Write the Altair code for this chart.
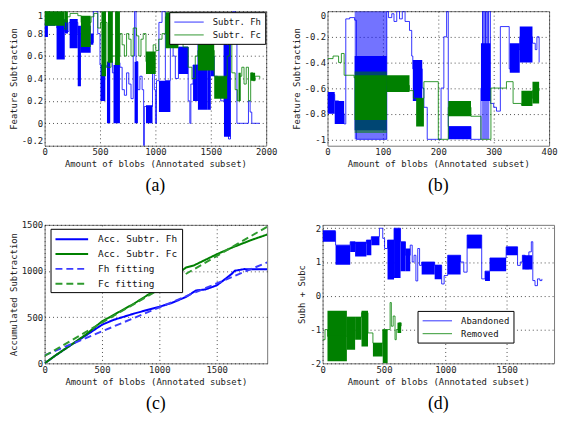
import altair as alt
import pandas as pd

BLUE = "#0000ff"
GREEN = "#008000"
MONO = "DejaVu Sans Mono"
XTITLE = "Amount of blobs (Annotated subset)"

# ---------------- panel (a) ----------------
A_FH_LINE = [(0, 0.88), (30, 0.97), (100, 0.9), (110, 0.85), (180, 0.82), (220, 0.9), (300, 0.8), (330, 0.72),
             (440, 1.0), (470, 1.0), (480, 0.8), (500, 0.52), (555, 0.5), (572, 0.55), (612, 0.45), (638, 0.54),
             (680, 0.5), (700, 0.3), (720, 0.25), (740, 0.45), (760, 0.35), (780, 0.22), (800, 0.6), (812, 1.0),
             (825, 0.55), (842, 0.3), (860, 0.42), (880, 0.3), (894, -0.2), (900, 0.15), (974, 0.55), (990, 0.3),
             (1000, 0.0), (1010, 0.38), (1032, 0.9), (1060, 1.0), (1090, 0.38), (1135, 0.9), (1160, 0.6),
             (1180, 0.4), (1208, 0.68), (1296, 0.2), (1311, 0.0), (1320, 0.35), (1340, 0.52), (1384, 0.7),
             (1472, 0.55), (1500, 0.6), (1531, 0.42), (1560, 0.3), (1590, 0.2), (1619, 0.7), (1640, 0.8),
             (1660, -0.14), (1678, 0.85), (1700, 1.0), (1720, 0.8), (1736, 0.0), (1840, 0.2), (1855, 0.1),
             (1870, 0.0), (1942, 0.0)]
A_FH_BANDS = [(0, 30, 0.77, 0.90), (30, 95, 0.87, 0.99), (108, 182, 0.57, 0.93), (182, 211, 0.80, 0.92),
              (226, 299, 0.67, 0.93), (299, 328, 0.33, 0.87), (328, 416, 0.63, 0.87), (416, 440, 0.70, 0.80),
              (504, 548, 0.20, 0.52), (563, 592, 0.0, 0.55), (622, 680, 0.0, 0.52), (812, 842, 0.0, 0.55),
              (915, 974, 0.0, 0.16), (1032, 1135, 0.10, 0.38), (1208, 1296, 0.44, 0.68), (1340, 1384, 0.20, 0.52),
              (1384, 1472, 0.12, 0.70), (1472, 1500, 0.12, 0.55), (1500, 1531, 0.42, 0.60), (1619, 1678, -0.12, 0.70)]
A_FC_LINE = [(0, 1.0), (40, 0.95), (80, 0.98), (120, 0.92), (180, 0.84), (200, 0.95), (230, 0.98), (300, 0.96),
             (330, 0.9), (420, 0.95), (445, 0.98), (480, 0.85), (504, 0.9), (563, 0.5), (600, 0.6), (680, 0.8),
             (700, 0.7), (720, 0.6), (740, 0.8), (760, 0.75), (780, 0.6), (800, 0.85), (830, 0.78), (850, 0.6),
             (870, 0.75), (890, 0.8), (915, 0.55), (940, 0.5), (980, 0.7), (1003, 0.65), (1030, 0.75), (1060, 0.8),
             (1091, 0.95), (1208, 0.75), (1250, 0.68), (1296, 0.5), (1330, 0.4), (1360, 0.6), (1384, 0.65),
             (1531, 0.42), (1648, 0.6), (1670, 0.76), (1690, 0.45), (1720, 0.3), (1740, 0.2), (1760, 0.42),
             (1780, 0.5), (1800, 0.35), (1820, 0.5), (1840, 0.2), (1860, 0.45), (1880, 0.38), (1900, 0.42),
             (1942, 0.4)]
A_FC_BANDS = [(0, 180, 0.87, 1.0), (180, 210, 0.90, 1.0), (328, 416, 0.68, 0.96), (513, 554, 0.42, 1.0),
              (572, 616, 0.54, 1.0), (636, 680, 0.52, 1.0), (915, 1003, 0.44, 0.64), (1091, 1208, 0.67, 0.99),
              (1384, 1531, 0.47, 0.73), (1531, 1648, 0.22, 0.42), (1750, 1770, 0.20, 0.45), (1860, 1900, 0.38, 0.45)]

# ---------------- panel (b) ----------------
B_FH_LINE = [(0, -0.75), (5, -0.65), (13, -0.7), (20, -0.8), (30, -0.88), (33, -0.06), (40, -0.05), (49, -0.07),
             (52, -1.0), (107, 0.0), (110, -0.05), (116, -0.02), (120, -0.08), (125, 0.0), (130, -0.06), (135, 0.0),
             (140, -0.08), (148, -0.15), (152, -0.35), (154, -0.45), (171, -0.6), (174, -0.75), (180, -1.0),
             (197, -1.0), (205, -0.6), (210, -0.2), (215, 0.0), (218, -0.9), (259, -1.0), (277, -0.6), (280, 0.0),
             (285, -0.5), (290, 0.0), (294, -0.72), (300, -0.75), (305, -0.78), (312, -0.12), (328, -0.45),
             (335, -0.3), (347, -0.2), (352, -0.15), (360, -0.3), (365, -0.2), (370, -0.25), (375, -0.3),
             (378, -0.2), (382, -0.4)]
B_FH_BANDS_LIGHT = [(49, 107, -1.0, 0.0), (279, 292, -1.0, 0.0)]
B_FH_BANDS = [(0, 13, -0.80, -0.63), (13, 30, -0.88, -0.70), (49, 107, -0.93, -0.35), (154, 171, -0.70, -0.38),
              (218, 259, -1.0, -0.90), (277, 294, -0.70, -0.25), (329, 347, -0.48, -0.25), (347, 370, -0.40, -0.12)]
B_FC_LINE = [(0, -0.37), (10, -0.35), (20, -0.4), (25, -0.33), (30, -0.5), (48, -0.52), (107, -0.58), (148, -0.62),
             (155, -0.68), (174, -0.55), (200, -1.0), (218, -0.75), (259, -0.82), (277, -1.0), (295, -0.6),
             (323, -0.55), (335, -0.72), (350, -0.73), (360, -0.68), (370, -0.62), (382, -0.6)]
B_FC_BANDS_LIGHT = [(49, 107, -0.95, -0.47)]
B_FC_BANDS = [(49, 107, -0.85, -0.50), (107, 148, -0.63, -0.50), (160, 174, -0.90, -0.68), (218, 259, -0.82, -0.70),
              (350, 370, -0.74, -0.62), (370, 382, -0.72, -0.55)]

# ---------------- panel (c) ----------------
C_FH_X = [0, 100, 217, 359, 500, 600, 782, 1000, 1100, 1234, 1320, 1400, 1500, 1560, 1630, 1658, 1743, 1800, 1940]
C_FH_Y = [0, 90, 188, 301, 418, 470, 540, 613, 650, 720, 790, 800, 844, 900, 968, 1003, 1021, 1018, 1020]
C_FC_X = [0, 100, 217, 359, 500, 782, 1000, 1234, 1300, 1500, 1630, 1800, 1940]
C_FC_Y = [0, 90, 188, 312, 454, 649, 819, 1039, 1060, 1181, 1252, 1335, 1395]
C_FH_FIT_X = [0, 1940]
C_FH_FIT_Y = [87, 1094]
C_FC_FIT_X = [0, 1940]
C_FC_FIT_Y = [80, 1480]

# ---------------- panel (d) ----------------
D_AB_LINE = [(0, 1.9), (106, 1.5), (225, 1.6), (265, 1.55), (357, 1.65), (397, 1.75), (463, 2.0), (490, 1.7),
             (505, 1.4), (529, 1.65), (582, 2.0), (635, 1.6), (675, 1.2), (714, 1.5), (730, 1.0), (745, 1.2),
             (760, 0.44), (775, 1.4), (790, 0.9), (807, 1.0), (913, 0.9), (970, 0.35), (990, 0.6), (1019, 1.2),
             (1124, 1.0), (1150, 0.7), (1177, 1.8), (1296, 0.5), (1323, 0.73), (1363, 1.12), (1495, 1.45),
             (1588, 0.9), (1610, 1.0), (1627, 1.2), (1650, 0.8), (1680, 1.3), (1700, 1.6), (1712, 0.45),
             (1730, 0.3), (1750, 0.5), (1770, 0.45), (1786, 0.5)]
D_AB_BANDS = [(0, 106, 1.6, 1.94), (106, 225, 0.92, 1.5), (225, 265, 1.3, 1.6), (265, 357, 1.16, 1.6),
              (357, 397, 1.2, 1.65), (397, 463, 1.5, 1.75), (529, 582, 0.48, 1.65), (582, 635, 0.53, 2.0),
              (635, 675, 0.73, 1.6), (675, 714, 0.73, 1.4), (807, 913, 0.63, 1.0), (913, 970, 0.49, 0.92),
              (1019, 1124, 0.63, 1.2), (1177, 1296, 1.4, 1.8), (1323, 1363, 0.44, 0.73), (1363, 1495, 0.73, 1.12),
              (1495, 1588, 1.2, 1.45), (1627, 1707, 0.78, 1.2)]
D_RM_LINE = [(0, -1.3), (20, -1.0), (40, -1.2), (198, -0.63), (265, -0.63), (317, -0.5), (370, -1.1), (410, -1.4),
             (490, -1.0), (530, -1.0), (550, -0.2), (560, -0.9), (575, -0.6), (590, -1.3), (600, -1.0),
             (620, -0.8), (640, -0.9)]
D_RM_BANDS = [(40, 198, -1.94, -0.44), (198, 265, -1.6, -0.63), (265, 317, -1.3, -0.63), (317, 370, -1.5, -0.44),
              (410, 490, -1.8, -1.4), (490, 530, -2.0, -1.0), (610, 640, -1.1, -0.8)]

LABEL_EXPR = "'' + datum.value"
# a long horizontal stroke as a legend symbol (row height stays small)
LINE_SYMBOL = "M-2.7,0H2.7"


def legend(x, y, symbol=LINE_SYMBOL, row=2, font=9, soff=10, loff=18):
    return alt.Legend(title=None, orient="none", legendX=x, legendY=y, fillColor="white", strokeColor="#000",
                      padding=4, rowPadding=row, symbolType=symbol, symbolSize=121, symbolStrokeWidth=1,
                      symbolOffset=soff, labelFont=MONO, labelFontSize=font, labelColor="#111", labelOffset=loff)


def panel(items, xdom, xticks, ydom, yticks, ytitle, w, h, series, colors, leg, caption,
          interp="step-after", flush=False):
    xs = alt.Scale(domain=xdom, nice=False, zero=False)
    ys = alt.Scale(domain=ydom, nice=False, zero=False)
    xax = alt.Axis(values=xticks, title=XTITLE, labelExpr=LABEL_EXPR, labelFlush=False)
    if flush:
        yax = alt.Axis(values=yticks, title=ytitle, labelExpr=LABEL_EXPR, labelFlush=1)
    else:
        yax = alt.Axis(values=yticks, title=ytitle, labelExpr=LABEL_EXPR)
    layers = []
    for kind, data, extra, op in items:
        if kind == "band":
            df = pd.DataFrame(data, columns=["x0", "x1", "lo", "hi"])
            layers.append(alt.Chart(df).mark_rect(color=extra, opacity=op, clip=True).encode(
                x=alt.X("x0:Q", scale=xs, axis=xax), x2="x1:Q",
                y=alt.Y("lo:Q", scale=ys, axis=yax), y2="hi:Q"))
        else:
            df = pd.DataFrame(data, columns=["x", "y"])
            df["s"] = extra
            df["i"] = range(len(df))
            layers.append(alt.Chart(df).mark_line(interpolate=interp, strokeWidth=1, opacity=op, clip=True).encode(
                x=alt.X("x:Q", scale=xs, axis=xax), y=alt.Y("y:Q", scale=ys, axis=yax),
                color=alt.Color("s:N", scale=alt.Scale(domain=series, range=colors), legend=leg),
                order="i:Q"))
    return alt.layer(*layers).properties(
        width=w, height=h,
        title=alt.TitleParams(caption, orient="bottom", offset=9))


pa = panel([("band", A_FH_BANDS, BLUE, 1), ("line", A_FH_LINE, "Subtr. Fh", 0.8),
            ("band", A_FC_BANDS, GREEN, 1), ("line", A_FC_LINE, "Subtr. Fc", 0.8)],
           [0, 2000], [0, 500, 1000, 1500, 2000], [-0.2, 1], [-0.2, 0, 0.2, 0.4, 0.6, 0.8, 1],
           "Feature Subtraction", 224, 136, ["Subtr. Fh", "Subtr. Fc"], [BLUE, GREEN], legend(126, 1), "(a)",
           flush=True)

pb = panel([("band", B_FH_BANDS_LIGHT, BLUE, 0.55), ("band", B_FH_BANDS, BLUE, 1), ("line", B_FH_LINE, "Fh", 0.8),
            ("band", B_FC_BANDS_LIGHT, GREEN, 0.55), ("band", B_FC_BANDS, GREEN, 1), ("line", B_FC_LINE, "Fc", 0.8)],
           [0, 400], [0, 100, 200, 300, 400], [-1.05, 0], [-1, -0.8, -0.6, -0.4, -0.2, 0],
           "Feature Subtraction", 224, 136, ["Fh", "Fc"], [BLUE, GREEN], None, "(b)", flush=True)

# panel (c)
c_rows = []
for name, xs_, ys_ in [("Acc. Subtr. Fh", C_FH_X, C_FH_Y), ("Acc. Subtr. Fc", C_FC_X, C_FC_Y),
                       ("Fh fitting", C_FH_FIT_X, C_FH_FIT_Y), ("Fc fitting", C_FC_FIT_X, C_FC_FIT_Y)]:
    for i, (xv, yv) in enumerate(zip(xs_, ys_)):
        c_rows.append({"x": xv, "y": yv, "s": name, "i": i})
c_df = pd.DataFrame(c_rows)
C_SERIES = ["Acc. Subtr. Fh", "Acc. Subtr. Fc", "Fh fitting", "Fc fitting"]
c_leg = legend(6, 4, symbol="M-3,0H3", row=4, font=9.5, soff=11, loff=20)
pc = alt.Chart(c_df).mark_line(clip=True).encode(
    x=alt.X("x:Q", scale=alt.Scale(domain=[0, 1940], nice=False, zero=False),
            axis=alt.Axis(values=[0, 500, 1000, 1500], title=XTITLE, labelExpr=LABEL_EXPR, labelFlush=False)),
    y=alt.Y("y:Q", scale=alt.Scale(domain=[0, 1500], nice=False, zero=False),
            axis=alt.Axis(values=[0, 500, 1000, 1500], title="Accumulated Subtraction", labelExpr=LABEL_EXPR)),
    color=alt.Color("s:N", scale=alt.Scale(domain=C_SERIES, range=[BLUE, GREEN, "#3b3bff", "#2e9a2e"]), legend=c_leg),
    strokeDash=alt.StrokeDash("s:N", scale=alt.Scale(domain=C_SERIES, range=[[1, 0], [1, 0], [7, 4], [7, 4]]), legend=c_leg),
    strokeWidth=alt.StrokeWidth("s:N", scale=alt.Scale(domain=C_SERIES, range=[2, 2, 1, 1]), legend=c_leg),
    order="i:Q",
).properties(width=225, height=140, title=alt.TitleParams("(c)", orient="bottom", offset=9))

pd_ = panel([("band", D_AB_BANDS, BLUE, 1), ("line", D_AB_LINE, "Abandoned", 0.8),
             ("band", D_RM_BANDS, GREEN, 1), ("line", D_RM_LINE, "Removed", 0.8)],
            [0, 1885], [0, 500, 1000, 1500], [-2, 2.1], [-2, -1, 0, 1, 2],
            "Subh + Subc", 234, 140, ["Abandoned", "Removed"], [BLUE, GREEN], legend(96, 87), "(d)")

IND = dict(color="independent", strokeDash="independent", strokeWidth="independent")

# "flush" bounds within a row: spacing is measured between the plot areas themselves
row1 = alt.hconcat(pa, pb, spacing=62, bounds="flush").resolve_scale(**IND).resolve_legend(**IND)
row2 = alt.hconcat(pc, pd_, spacing=56, bounds="flush").resolve_scale(**IND).resolve_legend(**IND)

chart = alt.vconcat(row1, row2, spacing=24, padding=0).resolve_scale(**IND).resolve_legend(**IND).configure_view(
    stroke="#777", strokeWidth=1
).configure_axis(
    grid=True, gridColor="#000", gridDash=[1, 3], gridOpacity=0.7, domain=False, ticks=False,
    labelFont=MONO, labelFontSize=9, labelColor="#222", labelPadding=2,
    titleFont=MONO, titleFontSize=9, titleFontWeight="normal", titleColor="#222", titlePadding=3
).configure_title(
    font="Liberation Serif", fontSize=18, fontWeight="normal", color="#000"
)

chart.save("out.html", embed_options={"renderer": "svg", "actions": False})
